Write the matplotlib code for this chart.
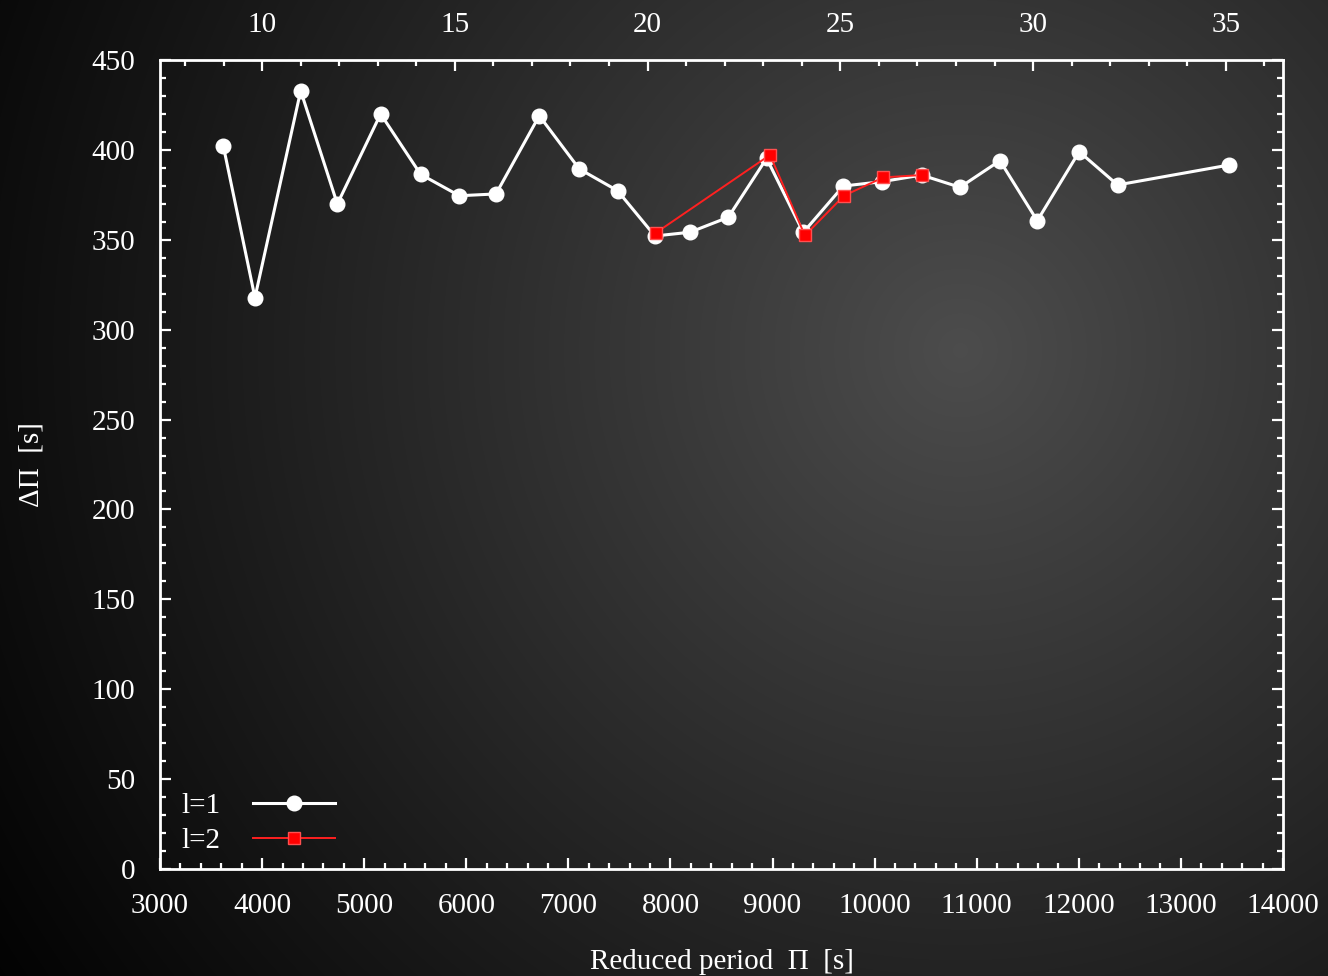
import numpy as np
import matplotlib
matplotlib.use('Agg')
import matplotlib.pyplot as plt
from matplotlib.ticker import MultipleLocator

plt.rcParams['font.family'] = ['Liberation Serif', 'DejaVu Serif']

# l=1 modes: reduced period and period spacing
P1 = [3620, 3930, 4378, 4737, 5161, 5553, 5932, 6291, 6715, 7107, 7482, 7848,
      8191, 8566, 8942, 9301, 9693, 10068, 10460, 10836, 11227, 11593, 12004,
      12380, 13473]
dP1 = [402.2, 317.8, 432.9, 369.9, 420.0, 386.4, 374.5, 375.5, 419.0, 389.4,
       377.3, 352.1, 354.2, 362.5, 395.3, 354.1, 379.9, 382.3, 386.0, 379.2,
       394.0, 360.6, 399.0, 380.5, 391.6]

# l=2 modes
P2 = [7858, 8975, 9317, 9699, 10085, 10460]
dP2 = [353.9, 397.2, 352.4, 374.5, 384.7, 386.0]

# top axis: radial order k
k_ticks = [10, 15, 20, 25, 30, 35]

def p2k(p):
    return 10 + (np.asarray(p, dtype=float) - 4000) / 377.6

def k2p(k):
    return 4000 + (np.asarray(k, dtype=float) - 10) * 377.6

W, H = 1328, 976
fig = plt.figure(figsize=(W / 100, H / 100), dpi=100)

# radial gradient background
bg = fig.add_axes([0, 0, 1, 1])
yy, xx = np.mgrid[0:H, 0:W]
r = np.sqrt((xx - 960) ** 2 + (yy - 350) ** 2)
c = 0.29 * np.clip(1 - r / 1150, 0, 1) ** 1.05 + 0.01
bg.imshow(np.dstack([c, c, c]), extent=[0, 1, 0, 1], aspect='auto', origin='upper')
bg.axis('off')

ax = fig.add_axes([160 / W, 1 - 869 / H, 1123 / W, 809 / H])
ax.set_facecolor('none')

ax.plot(P1, dP1, color='white', lw=2.2, marker='o', ms=10.5, mec='white', label='l=1', zorder=3)
ax.plot(P2, dP2, color='#ff2020', lw=1.4, marker='s', ms=8, mfc='red', mec='#ff5050',
        label='l=2', zorder=4)

ax.set_xlim(3000, 14000)
ax.set_ylim(0, 450)
ax.xaxis.set_major_locator(MultipleLocator(1000))
ax.xaxis.set_minor_locator(MultipleLocator(200))
ax.yaxis.set_major_locator(MultipleLocator(50))
ax.yaxis.set_minor_locator(MultipleLocator(10))

for s in ax.spines.values():
    s.set_color('white')
    s.set_linewidth(2)

fs = 21
ax.tick_params(which='both', direction='in', colors='white', top=False, right=True,
               labelsize=fs, width=1.6)
ax.tick_params(which='major', length=8)
ax.tick_params(which='minor', length=4)
ax.tick_params(axis='x', pad=17)
ax.tick_params(axis='y', pad=18)

sec = ax.secondary_xaxis('top', functions=(p2k, k2p))
sec.set_xticks(k_ticks)
sec.xaxis.set_minor_locator(MultipleLocator(1))
sec.tick_params(which='both', direction='in', colors='white', labelsize=fs, width=1.6, pad=16)
sec.tick_params(which='major', length=8)
sec.tick_params(which='minor', length=4)
sec.spines['top'].set_visible(False)

ax.set_xlabel('Reduced period  Π  [s]', color='white', fontsize=fs, labelpad=22)
ax.set_ylabel('ΔΠ  [s]', color='white', fontsize=fs, labelpad=34)

leg = ax.legend(loc='lower left', bbox_to_anchor=(-0.004, -0.014), frameon=False,
                markerfirst=False, fontsize=fs, handlelength=2.8, labelspacing=0.29,
                handletextpad=1.1)
for t in leg.get_texts():
    t.set_color('white')

fig.savefig('out.png', dpi=100)
